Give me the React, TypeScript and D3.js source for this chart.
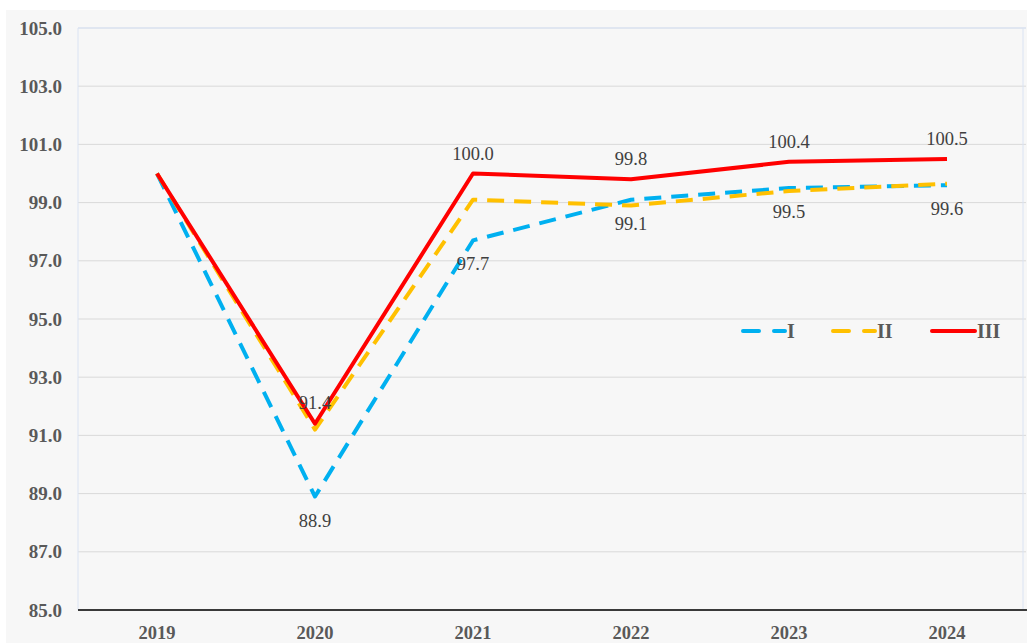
import React from "react";
import * as d3 from "d3";

// chart values
const years = ["2019", "2020", "2021", "2022", "2023", "2024"];
const seriesI = [100, 88.9, 97.7, 99.1, 99.5, 99.6];
const seriesII = [100, 91.2, 99.1, 98.9, 99.4, 99.65];
const seriesIII = [100, 91.4, 100.0, 99.8, 100.4, 100.5];
const yTicks = [85, 87, 89, 91, 93, 95, 97, 99, 101, 103, 105];
const labelsI = ["", "88.9", "97.7", "99.1", "99.5", "99.6"];
const labelsIII = ["", "91.4", "100.0", "99.8", "100.4", "100.5"];

const W = 1027;
const H = 643;
const M = { top: 28, right: 1, bottom: 33, left: 78 };
const SERIF = "'Liberation Serif', 'Times New Roman', serif";

export default function App() {
  const x = d3
    .scaleBand<string>()
    .domain(years)
    .range([M.left, W - M.right]);
  const y = d3.scaleLinear().domain([85, 105]).range([H - M.bottom, M.top]);
  const cx = (d: string) => (x(d) as number) + x.bandwidth() / 2;

  const line = d3
    .line<number>()
    .x((_, i) => cx(years[i]))
    .y((v) => y(v));

  const series = [
    { name: "I", values: seriesI, color: "#00b0f0", dash: "17 10" },
    { name: "II", values: seriesII, color: "#ffc000", dash: "17 10" },
    { name: "III", values: seriesIII, color: "#ff0000", dash: undefined },
  ];

  const legendX = [743, 833, 932];

  return (
    <div style={{ position: "fixed", left: 0, top: 0 }}>
      <svg width={W} height={H} style={{ display: "block" }}>
        <rect x={0} y={0} width={W} height={H} fill="#ffffff" />
        <rect x={6} y={10} width={W - 6} height={H - 10} fill="#f7f7f7" />

        {/* grid */}
        {yTicks.map((t) => (
          <line
            key={t}
            x1={M.left}
            x2={W - M.right}
            y1={y(t)}
            y2={y(t)}
            stroke={t === 105 ? "#c9d5ea" : "#d9d9d9"}
            strokeWidth={1}
          />
        ))}
        <line x1={M.left} x2={M.left} y1={M.top} y2={y(85)} stroke="#dae3f3" />
        <line x1={W - 4} x2={W - 4} y1={M.top} y2={y(85)} stroke="#dae3f3" />
        <line x1={M.left} x2={W} y1={y(85)} y2={y(85)} stroke="#000" strokeWidth={1.5} />

        {/* y tick labels */}
        {yTicks.map((t) => (
          <text
            key={t}
            x={62}
            y={y(t)}
            dy="0.35em"
            textAnchor="end"
            fontFamily={SERIF}
            fontWeight="bold"
            fontSize={19}
            fill="#595959"
          >
            {t.toFixed(1)}
          </text>
        ))}

        {/* x tick labels */}
        {years.map((yr) => (
          <text
            key={yr}
            x={cx(yr)}
            y={639}
            textAnchor="middle"
            fontFamily={SERIF}
            fontWeight="bold"
            fontSize={18.5}
            fill="#595959"
          >
            {yr}
          </text>
        ))}

        {/* lines */}
        {series.map((s) => (
          <path
            key={s.name}
            d={line(s.values) || ""}
            fill="none"
            stroke={s.color}
            strokeWidth={4}
            strokeDasharray={s.dash}
            strokeLinejoin="round"
          />
        ))}

        {/* data labels */}
        {labelsIII.map((l, i) =>
          l ? (
            <text
              key={"a" + i}
              x={cx(years[i])}
              y={y(seriesIII[i]) - (i === 1 ? 15 : 14)}
              textAnchor="middle"
              fontFamily={SERIF}
              fontSize={18.5}
              fill="#404040"
            >
              {l}
            </text>
          ) : null
        )}
        {labelsI.map((l, i) =>
          l ? (
            <text
              key={"b" + i}
              x={cx(years[i])}
              y={y(seriesI[i]) + 30}
              textAnchor="middle"
              fontFamily={SERIF}
              fontSize={18.5}
              fill="#404040"
            >
              {l}
            </text>
          ) : null
        )}

        {/* legend */}
        {series.map((s, i) => (
          <g key={s.name} transform={`translate(${legendX[i]},331)`}>
            <line
              x1={0}
              x2={s.dash ? 42 : 43}
              y1={0}
              y2={0}
              stroke={s.color}
              strokeWidth={4}
              strokeDasharray={s.dash ? "16 15" : undefined}
              strokeLinecap="round"
            />
            <text
              x={s.dash ? 44 : 45}
              y={0}
              dy="0.35em"
              fontFamily={SERIF}
              fontWeight="bold"
              fontSize={20}
              fill="#595959"
            >
              {s.name}
            </text>
          </g>
        ))}
      </svg>
    </div>
  );
}
